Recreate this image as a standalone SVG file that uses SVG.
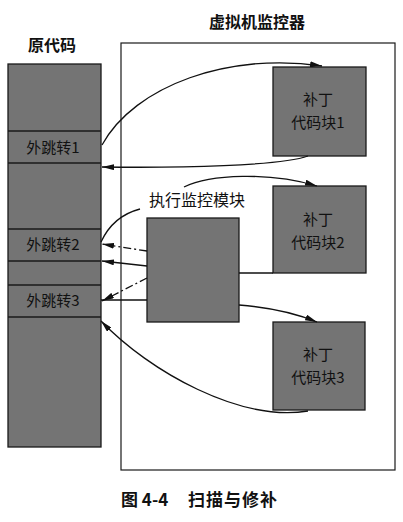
<svg xmlns="http://www.w3.org/2000/svg" width="403" height="522" viewBox="0 0 403 522">
<defs>
<marker id="ah" viewBox="0 0 12 6" refX="12" refY="3" markerWidth="12" markerHeight="6" orient="auto" markerUnits="userSpaceOnUse">
<path d="M0,0 L12,3 L0,6 Z" fill="#111"/>
</marker>
<style>
.box{fill:#747474;stroke:#1a1a1a;stroke-width:1.3}
.div{stroke:#1a1a1a;stroke-width:1.3}
.t{font-family:"Noto Sans CJK SC","Noto Sans",sans-serif;font-size:15px;fill:#111;text-anchor:middle}
.h{font-family:"Noto Sans CJK SC","Noto Sans",sans-serif;font-size:16px;fill:#111;text-anchor:middle}
.c{fill:none;stroke:#111;stroke-width:1.3}
.dd{stroke-dasharray:8 3 2 3}
</style>
</defs>
<rect width="403" height="522" fill="#fff"/>

<g id="vmm">
<rect x="121" y="43" width="274" height="427" fill="none" stroke="#1a1a1a" stroke-width="1.2"/>
<text class="h" x="257" y="28" font-weight="bold">虚拟机监控器</text>
</g>

<g id="source">
<text class="h" x="52" y="51" font-weight="bold">原代码</text>
<rect class="box" x="8" y="64" width="93" height="383"/>
<line class="div" x1="8" y1="131" x2="101" y2="131"/>
<line class="div" x1="8" y1="163" x2="101" y2="163"/>
<line class="div" x1="8" y1="229" x2="101" y2="229"/>
<line class="div" x1="8" y1="261" x2="101" y2="261"/>
<line class="div" x1="8" y1="285" x2="101" y2="285"/>
<line class="div" x1="8" y1="317" x2="101" y2="317"/>
</g>
<g id="jump1"><text class="t" x="53" y="153">外跳转1</text></g>
<g id="jump2"><text class="t" x="53" y="250">外跳转2</text></g>
<g id="jump3"><text class="t" x="53" y="306">外跳转3</text></g>

<g id="patch1">
<rect class="box" x="273" y="67" width="93" height="89"/>
<text class="t" x="318" y="105">补丁</text>
<text class="t" x="318" y="128">代码块1</text>
</g>
<g id="patch2">
<rect class="box" x="273" y="186" width="93" height="87"/>
<text class="t" x="318" y="225">补丁</text>
<text class="t" x="318" y="248">代码块2</text>
</g>
<g id="patch3">
<rect class="box" x="273" y="322" width="92" height="88"/>
<text class="t" x="318" y="360">补丁</text>
<text class="t" x="318" y="383">代码块3</text>
</g>

<g id="monitor">
<text class="h" x="197" y="206">执行监控模块</text>
<rect class="box" x="147" y="218" width="92" height="104"/>
</g>

<g id="connectors">
<path class="c" d="M102,145 C135,85 230,52 322,66" marker-end="url(#ah)"/>
<path class="c" d="M308,156 C280,166 180,168 102,167" marker-end="url(#ah)"/>
<path class="c" d="M184,187 C210,174 270,172 317,186" marker-end="url(#ah)"/>
<path class="c" d="M140,209 Q113,216 101,242"/>
<path class="c dd" d="M147,251 L102,244" marker-end="url(#ah)"/>
<path class="c" d="M147,266 L102,261" marker-end="url(#ah)"/>
<path class="c dd" d="M147,278 L102,301" marker-end="url(#ah)"/>
<path class="c" d="M147,300 L101,300"/>
<path class="c" d="M239,273 L273,273"/>
<path class="c" d="M239,305 C265,307 295,313 317,322" marker-end="url(#ah)"/>
<path class="c" d="M308,411 C240,422 150,372 101,321" marker-end="url(#ah)"/>
</g>

<g id="caption">
<text font-family="'Noto Sans CJK SC','Noto Sans',sans-serif" font-size="17" font-weight="bold" fill="#111" y="506"><tspan x="121">图 4-4</tspan><tspan x="188" letter-spacing="1">扫描与修补</tspan></text>
</g>
</svg>
